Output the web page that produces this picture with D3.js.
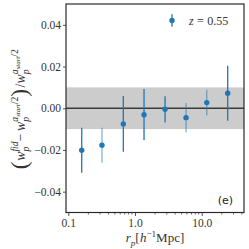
<!DOCTYPE html>
<html><head><meta charset="utf-8">
<script src="https://cdn.jsdelivr.net/npm/d3@7"></script>
<style>body{margin:0;background:#fff}svg{display:block}</style>
</head><body>
<svg id="c" width="249" height="249"></svg>
<script>
// ---- data ----
const rp = [0.159, 0.320, 0.668, 1.365, 2.82, 5.82, 11.9, 24.5];
const delta = [-0.0201, -0.0177, -0.0075, -0.0031, -0.0005, -0.0045, 0.0027, 0.0072];
const err = [0.0108, 0.0084, 0.0134, 0.0123, 0.0063, 0.0070, 0.0062, 0.0132];
const lightBars = [false, true, false, false, false, true, true, false];
const bandLimits = [-0.01, 0.01];
const yTicks = [-0.04, -0.02, 0.00, 0.02, 0.04];
const xTicks = [0.1, 1, 10];
const xTickLabels = ["0.1", "1.0", "10.0"];
const legendLabel = "0.55";
const panelLabel = "(e)";

const svg = d3.select("#c");
const L = 66, R = 244, T = 4, B = 212.5;
const x = d3.scaleLog().domain([0.0924, 43]).range([L, R]);
const y = d3.scaleLinear().domain([-0.05, 0.05]).range([B, T]);
const blue = "#1f77b4";
const serif = "'Liberation Serif', 'DejaVu Serif', serif";
const ink = "#2a2a2a";

// band
svg.append("rect").attr("x", L).attr("width", R - L)
  .attr("y", y(bandLimits[1])).attr("height", y(bandLimits[0]) - y(bandLimits[1]))
  .attr("fill", "#cccccc");
// zero line
svg.append("line").attr("x1", L).attr("x2", R).attr("y1", y(0)).attr("y2", y(0))
  .attr("stroke", "#3a3a3a").attr("stroke-width", 1.5);

// error bars
const pts = rp.map((r, i) => ({r, d: delta[i], e: err[i], light: lightBars[i]}));
svg.append("g").selectAll("line").data(pts).join("line")
  .attr("x1", d => x(d.r)).attr("x2", d => x(d.r))
  .attr("y1", d => y(d.d - d.e)).attr("y2", d => y(d.d + d.e))
  .attr("stroke", blue).attr("stroke-width", 1.3)
  .attr("stroke-opacity", d => d.light ? 0.55 : 1);
svg.append("g").selectAll("circle").data(pts).join("circle")
  .attr("cx", d => x(d.r)).attr("cy", d => y(d.d)).attr("r", 2.7).attr("fill", blue);

// axes
const fmtY = v => (v < 0 ? "\u2212" : "") + Math.abs(v).toFixed(2);
const yAxis = d3.axisLeft(y).tickValues(yTicks).tickFormat(fmtY).tickSize(3).tickPadding(2);
const gy = svg.append("g").attr("transform", `translate(${L},0)`).call(yAxis);
const xAxis = d3.axisBottom(x).tickValues(xTicks).tickFormat((d, i) => xTickLabels[i]).tickSize(3.5).tickPadding(3);
const gx = svg.append("g").attr("transform", `translate(0,${B})`).call(xAxis);
const minor = [];
[0.1, 1, 10].forEach(dec => { for (let k = 2; k <= 9; k++) { const v = dec * k; if (v >= x.domain()[0] && v <= x.domain()[1]) minor.push(v); } });
svg.append("g").selectAll("line").data(minor).join("line")
  .attr("x1", d => x(d)).attr("x2", d => x(d)).attr("y1", B).attr("y2", B + 2)
  .attr("stroke", ink).attr("stroke-width", 0.7);
[gx, gy].forEach(g => {
  g.select(".domain").remove();
  g.selectAll("line").attr("stroke", ink).attr("stroke-width", 0.8);
  g.selectAll("text").attr("font-family", serif).attr("font-size", 11.5).attr("fill", "#333");
});
// frame
svg.append("rect").attr("x", L).attr("y", T).attr("width", R - L).attr("height", B - T)
  .attr("fill", "none").attr("stroke", ink).attr("stroke-width", 1.2);

// math layout helper
function layout(g, toks, fs) {
  let cx = 0, gxp = 0, hi = 0;
  toks.forEach(tk => {
    if (tk.open) { gxp = cx; hi = cx; }
    if (tk.reset) { hi = Math.max(hi, cx); cx = gxp; }
    const t = g.append("text").attr("x", cx).attr("y", (tk.dy || 0) * fs)
      .attr("font-family", serif).attr("font-size", fs * (tk.s || 1))
      .attr("font-style", tk.it ? "italic" : "normal").attr("fill", "#333")
      .attr("xml:space", "preserve").text(tk.t);
    cx += t.node().getComputedTextLength() + (tk.sp || 0) * fs;
    if (tk.close) cx = Math.max(cx, hi);
  });
  return cx;
}
const supA = [
  {t: "a", it: true, s: 0.7, dy: -0.48, open: true},
  {t: "start", it: true, s: 0.5, dy: -0.36},
  {t: "/2", s: 0.7, dy: -0.48},
  {t: "p", it: true, s: 0.7, dy: 0.28, reset: true, close: true}
];
const ylab = [
  {t: "(", s: 1.7, dy: 0.12, sp: 0.05},
  {t: "w", it: true},
  {t: "fid", it: true, s: 0.7, dy: -0.48, open: true},
  {t: "p", it: true, s: 0.7, dy: 0.28, reset: true, close: true, sp: 0.2},
  {t: "\u2212", sp: 0.2},
  {t: "w", it: true},
  ...supA,
  {t: ")", s: 1.7, dy: 0.12, sp: 0.1},
  {t: "/", sp: 0.02},
  {t: "w", it: true},
  ...supA
];
const yl = svg.append("g");
const ylw = layout(yl, ylab, 13.8);
yl.attr("transform", `translate(25,${(T + B) / 2 + 1}) rotate(-90) translate(${-ylw / 2},0)`);

const xlab = [
  {t: "r", it: true},
  {t: "p", it: true, s: 0.7, dy: 0.28},
  {t: "[", sp: 0.02},
  {t: "h", it: true},
  {t: "\u22121", s: 0.7, dy: -0.42},
  {t: "Mpc]"}
];
const xl = svg.append("g");
const xlw = layout(xl, xlab, 13);
xl.attr("transform", `translate(${(L + R) / 2 - xlw / 2},242)`);

// legend
const lx = 172, ly = 20.5;
svg.append("line").attr("x1", lx).attr("x2", lx).attr("y1", ly - 6.3).attr("y2", ly + 6.3)
  .attr("stroke", blue).attr("stroke-width", 1.3);
svg.append("circle").attr("cx", lx).attr("cy", ly).attr("r", 2.7).attr("fill", blue);
const lg = svg.append("g").attr("transform", "translate(189,25)");
layout(lg, [{t: "z", it: true, sp: 0.28}, {t: "=", sp: 0.28}, {t: legendLabel}], 12);

// panel label
svg.append("text").attr("x", 233).attr("y", 203.5).attr("text-anchor", "end")
  .attr("font-family", "'DejaVu Sans', sans-serif").attr("font-size", 11).attr("fill", "#222")
  .text(panelLabel);
</script>
</body></html>
